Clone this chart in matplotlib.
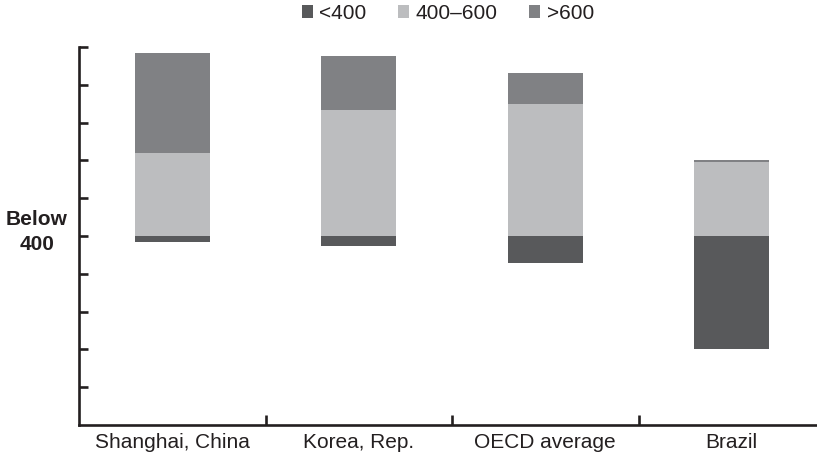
import matplotlib

matplotlib.use("Agg")
import matplotlib.pyplot as plt
import numpy as np

plt.rcParams["font.family"] = ["Liberation Sans", "DejaVu Sans"]

# share of students by score band (%), below-400 drawn downward
countries = ["Shanghai, China", "Korea, Rep.", "OECD average", "Brazil"]
below_400 = [1.6, 2.65, 7.2, 30.0]
mid_400_600 = [22.0, 33.4, 35.0, 19.6]
above_600 = [26.5, 14.1, 8.0, 0.5]

C_LOW, C_MID, C_HIGH = "#58595b", "#bcbdbf", "#808184"
INK = "#231f20"
FS = 15

fig = plt.figure(figsize=(8.17, 4.59), dpi=100)
ax = fig.add_axes([79 / 817, 34 / 459, 746 / 817, 378 / 459])

x = np.arange(len(countries))
w = 0.40
ax.bar(x, [-v for v in below_400], w, color=C_LOW, label="<400")
ax.bar(x, mid_400_600, w, color=C_MID, label="400\u2013600")
ax.bar(x, above_600, w, bottom=mid_400_600, color=C_HIGH, label=">600")

ax.set_xlim(-0.5, 3.5)
ax.set_ylim(-50, 50)

for s in ("top", "right"):
    ax.spines[s].set_visible(False)
for s in ("left", "bottom"):
    ax.spines[s].set_color(INK)
    ax.spines[s].set_linewidth(1.9)

ax.set_yticks(np.arange(-40, 51, 10))
ax.set_yticklabels([])
ax.tick_params(axis="y", direction="in", length=6.5, width=1.9, color=INK)

ax.set_xticks(x)
ax.set_xticklabels(countries, fontsize=FS, color=INK)
ax.tick_params(axis="x", which="major", length=0, pad=6)
ax.set_xticks([0.5, 1.5, 2.5], minor=True)
ax.tick_params(axis="x", which="minor", direction="in", length=7, width=1.9, color=INK)

fig.text(37 / 817, 1 - 232 / 459, "Below\n400", ha="center", va="center",
         fontsize=FS, fontweight="bold", color=INK, linespacing=1.35)

handles, labels = ax.get_legend_handles_labels()
fig.legend(handles, labels, loc="upper center", bbox_to_anchor=(0.548, 1.032),
           ncol=3, frameon=False, fontsize=FS, handlelength=0.55,
           handleheight=0.55, handletextpad=0.3, columnspacing=1.5,
           labelcolor=INK)

fig.savefig("out.png", dpi=100, facecolor="white")
